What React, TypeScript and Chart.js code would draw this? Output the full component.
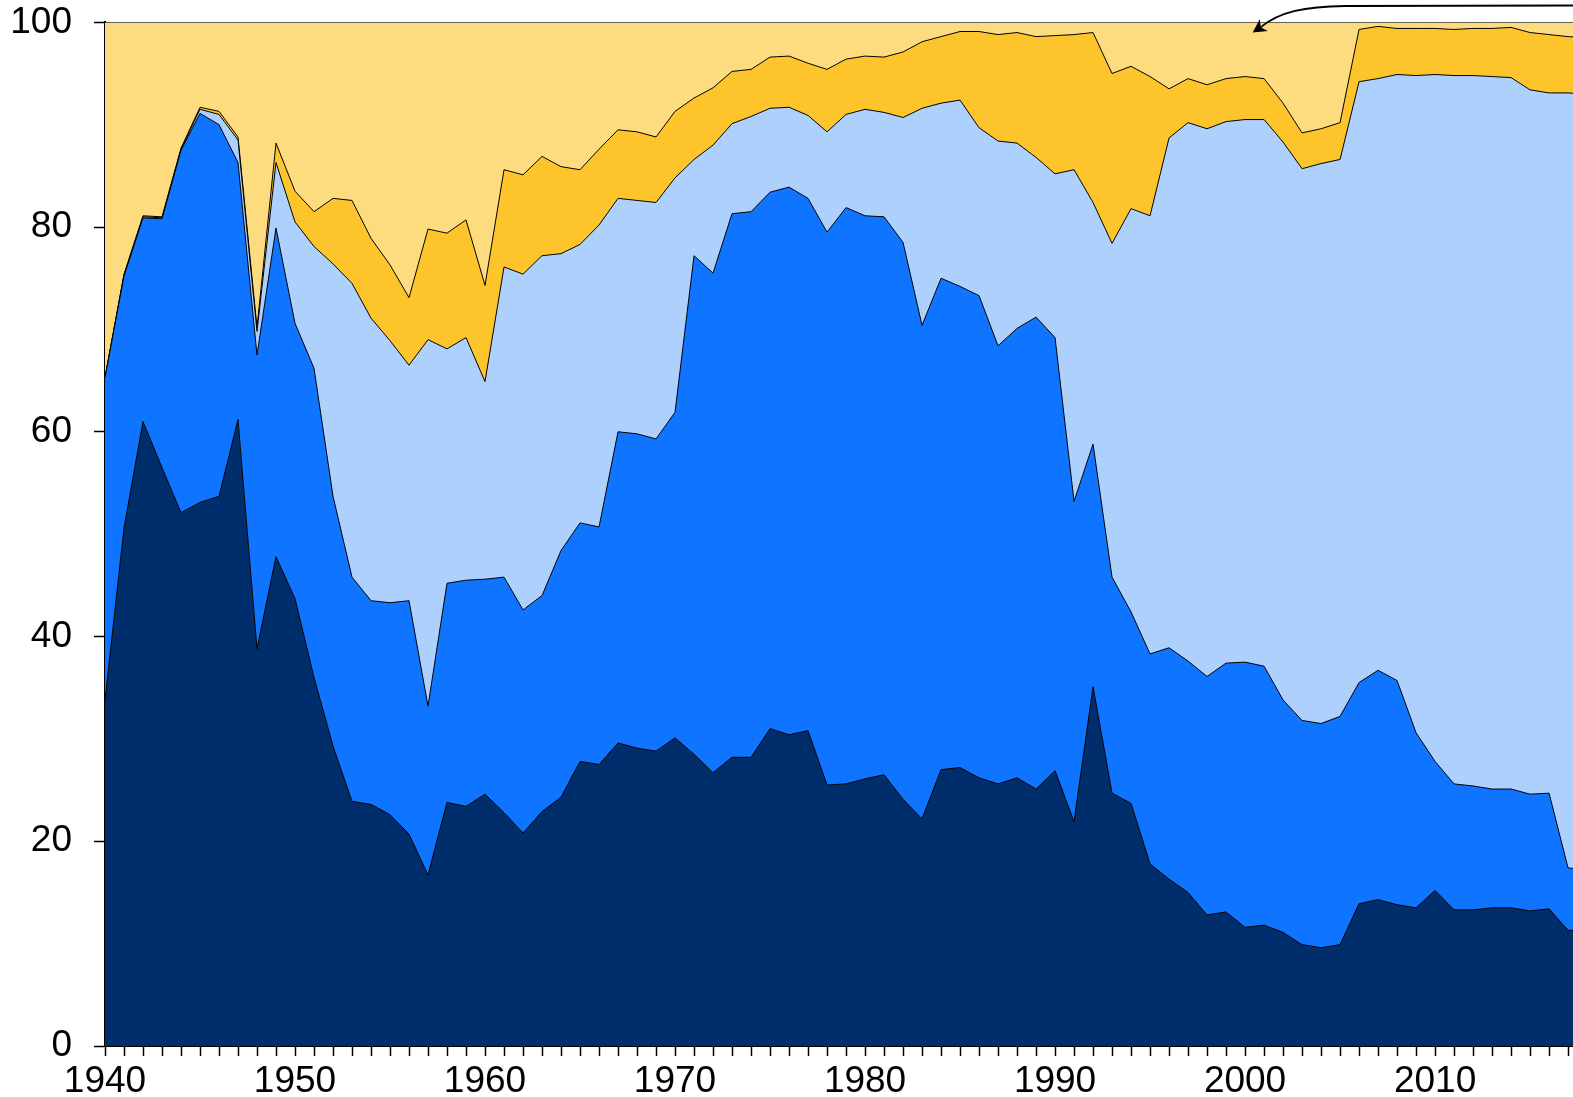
import React, { useEffect, useRef } from 'react';
import { Chart, registerables } from 'chart.js';

Chart.register(...registerables);

const years = [
  1940, 1941, 1942, 1943, 1944, 1945, 1946, 1947, 1948, 1949,
  1950, 1951, 1952, 1953, 1954, 1955, 1956, 1957, 1958, 1959,
  1960, 1961, 1962, 1963, 1964, 1965, 1966, 1967, 1968, 1969,
  1970, 1971, 1972, 1973, 1974, 1975, 1976, 1977, 1978, 1979,
  1980, 1981, 1982, 1983, 1984, 1985, 1986, 1987, 1988, 1989,
  1990, 1991, 1992, 1993, 1994, 1995, 1996, 1997, 1998, 1999,
  2000, 2001, 2002, 2003, 2004, 2005, 2006, 2007, 2008, 2009,
  2010, 2011, 2012, 2013, 2014, 2015, 2016, 2017, 2018,
];

// Share of each layer (percent), bottom to top
const navyShare = [
  33.8, 50.6, 61.0, 56.5, 52.1, 53.1, 53.7, 61.2, 38.8, 47.8,
  43.7, 36.0, 29.3, 23.9, 23.6, 22.6, 20.7, 16.7, 23.8, 23.4,
  24.6, 22.8, 20.8, 22.9, 24.3, 27.8, 27.5, 29.6, 29.1, 28.8,
  30.1, 28.5, 26.7, 28.2, 28.2, 31.0, 30.4, 30.8, 25.5, 25.6,
  26.1, 26.5, 24.1, 22.2, 27.0, 27.2, 26.2, 25.6, 26.2, 25.1,
  26.9, 21.9, 35.1, 24.7, 23.7, 17.8, 16.3, 15.0, 12.8, 13.1,
  11.6, 11.8, 11.1, 9.9, 9.6, 9.9, 13.9, 14.3, 13.8, 13.5,
  15.2, 13.3, 13.3, 13.5, 13.5, 13.2, 13.4, 11.3, 11.3,
];

const blueShare = [
  31.5, 24.6, 19.9, 24.3, 35.4, 38.0, 36.3, 25.1, 28.7, 32.1,
  26.9, 30.2, 24.4, 21.9, 19.9, 20.7, 22.8, 16.5, 21.4, 22.1,
  21.0, 23.0, 21.8, 21.1, 24.1, 23.3, 23.2, 30.4, 30.7, 30.5,
  31.8, 48.7, 48.8, 53.1, 53.3, 52.4, 53.5, 52.0, 54.0, 56.3,
  55.0, 54.5, 54.4, 48.2, 48.0, 47.0, 47.1, 42.8, 43.9, 46.1,
  42.3, 31.3, 23.7, 21.1, 18.7, 20.5, 22.6, 22.6, 23.3, 24.3,
  25.9, 25.3, 22.7, 21.9, 21.9, 22.3, 21.6, 22.4, 21.9, 17.1,
  12.6, 12.3, 12.1, 11.6, 11.6, 11.4, 11.3, 6.1, 5.9,
];

const lightBlueShare = [
  0.0, 0.1, 0.1, 0.1, 0.1, 0.4, 1.0, 2.2, 2.3, 6.4,
  9.9, 11.9, 22.7, 28.7, 27.6, 25.6, 23.0, 35.8, 22.9, 23.7,
  19.3, 30.3, 32.8, 33.2, 29.0, 27.2, 29.5, 22.8, 22.8, 23.1,
  22.9, 9.4, 12.5, 8.8, 9.3, 8.2, 7.8, 8.1, 9.8, 9.1,
  10.4, 10.2, 12.2, 21.2, 17.1, 18.2, 16.4, 20.0, 18.1, 15.6,
  16.0, 32.4, 23.6, 32.6, 39.4, 42.8, 49.8, 52.6, 53.5, 52.9,
  53.0, 53.4, 54.5, 53.9, 54.7, 54.4, 58.7, 57.8, 59.2, 64.2,
  67.1, 69.2, 69.4, 69.6, 69.5, 68.8, 68.4, 75.7, 75.8,
];

const goldShare = [
  0.0, 0.1, 0.1, 0.1, 0.1, 0.2, 0.3, 0.3, 0.4, 1.9,
  3.0, 3.4, 6.4, 8.1, 7.8, 7.4, 6.6, 10.8, 11.3, 11.5,
  9.4, 9.5, 9.7, 9.7, 8.5, 7.3, 7.4, 6.7, 6.7, 6.4,
  6.5, 6.0, 5.6, 5.1, 4.6, 5.0, 5.0, 5.1, 6.1, 5.4,
  5.2, 5.4, 6.4, 6.5, 6.5, 6.7, 9.4, 10.4, 10.8, 11.8,
  13.5, 13.2, 16.6, 16.6, 13.9, 13.6, 4.8, 4.3, 4.3, 4.2,
  4.2, 4.0, 3.8, 3.5, 3.4, 3.6, 5.1, 5.1, 4.5, 4.6,
  4.5, 4.5, 4.6, 4.7, 4.9, 5.6, 5.7, 5.5, 5.5,
];

const paleShare = [
  34.7, 24.6, 18.9, 19.0, 12.3, 8.3, 8.7, 11.2, 29.8, 11.8,
  16.5, 18.5, 17.2, 17.4, 21.1, 23.7, 26.9, 20.2, 20.6, 19.3,
  25.7, 14.4, 14.9, 13.1, 14.1, 14.4, 12.4, 10.5, 10.7, 11.2,
  8.7, 7.4, 6.4, 4.8, 4.6, 3.4, 3.3, 4.0, 4.6, 3.6,
  3.3, 3.4, 2.9, 1.9, 1.4, 0.9, 0.9, 1.2, 1.0, 1.4,
  1.3, 1.2, 1.0, 5.0, 4.3, 5.3, 6.5, 5.5, 6.1, 5.5,
  5.3, 5.5, 7.9, 10.8, 10.4, 9.8, 0.7, 0.4, 0.6, 0.6,
  0.6, 0.7, 0.6, 0.6, 0.5, 1.0, 1.2, 1.4, 1.5,
];

const decadeLabels = [1940, 1950, 1960, 1970, 1980, 1990, 2000, 2010];
const yTickValues = [0, 20, 40, 60, 80, 100];

const seriesList = [
  { name: 'Series 1', values: navyShare, color: '#002D6B' },
  { name: 'Series 2', values: blueShare, color: '#0F74FF' },
  { name: 'Series 3', values: lightBlueShare, color: '#AED0FC' },
  { name: 'Series 4', values: goldShare, color: '#FDC52B' },
  { name: 'Series 5', values: paleShare, color: '#FDDC80' },
];

const FONT = '"Liberation Sans", Arial, Helvetica, sans-serif';

const arrowPlugin = {
  id: 'arrowNote',
  afterDraw(chart: any) {
    const { ctx, chartArea, scales } = chart;
    const tipX = scales.x.getPixelForValue(2000.4);
    const tipY = scales.y.getPixelForValue(99);
    const startX = chartArea.right + 2;
    const dx = -10.9;
    const dy = 7.3;
    const dl = Math.hypot(dx, dy);
    const ux = dx / dl;
    const uy = dy / dl;
    const len = 13.5;
    const half = 7.2;
    const bx = tipX - ux * len;
    const by = tipY - uy * len;
    const nx = -uy;
    const ny = ux;
    const mx = tipX - ux * len * 0.72;
    const my = tipY - uy * len * 0.72;

    ctx.save();
    ctx.strokeStyle = '#000';
    ctx.fillStyle = '#000';
    ctx.lineWidth = 1.8;
    ctx.beginPath();
    ctx.moveTo(startX, 5.5);
    ctx.lineTo(1345, 6);
    ctx.bezierCurveTo(1305, 6.5, 1280, 11.5, mx, my);
    ctx.stroke();
    ctx.beginPath();
    ctx.moveTo(tipX, tipY);
    ctx.lineTo(bx + nx * half, by + ny * half);
    ctx.lineTo(mx, my);
    ctx.lineTo(bx - nx * half, by - ny * half);
    ctx.closePath();
    ctx.fill();
    ctx.restore();
  },
};

export default function App() {
  const canvasRef = useRef<HTMLCanvasElement | null>(null);

  useEffect(() => {
    const canvas = canvasRef.current;
    if (!canvas) return;
    const datasets = seriesList.map((s, i) => ({
      label: s.name,
      data: years.map((yr, k) => ({ x: yr, y: s.values[k] })),
      backgroundColor: s.color,
      borderColor: '#000',
      borderWidth: 1,
      pointRadius: 0,
      tension: 0,
      fill: i === 0 ? 'origin' : '-1',
    }));

    const chart = new Chart(canvas, {
      type: 'line',
      data: { datasets },
      plugins: [arrowPlugin],
      options: {
        animation: false,
        responsive: false,
        devicePixelRatio: 1,
        layout: { padding: { top: 22.3, left: 0, right: 0, bottom: 0 } },
        plugins: {
          legend: { display: false },
          tooltip: { enabled: false },
        },
        elements: { line: { borderJoinStyle: 'miter' } },
        scales: {
          x: {
            type: 'linear',
            min: 1940,
            max: 2017.26,
            afterBuildTicks: (scale: any) => {
              scale.ticks = years
                .filter((v) => v <= 2017)
                .map((v) => ({ value: v }));
            },
            afterFit: (scale: any) => {
              scale.height = 51;
            },
            ticks: {
              autoSkip: false,
              maxRotation: 0,
              padding: 4,
              color: '#000',
              font: { family: FONT, size: 37, lineHeight: 1.2 },
              callback: (v: any) => (decadeLabels.includes(Number(v)) ? String(v) : ''),
            },
            grid: {
              drawOnChartArea: false,
              drawTicks: true,
              tickLength: 10,
              color: '#000',
              tickWidth: 1.5,
            },
            border: { display: true, color: '#000', width: 2 },
          },
          y: {
            stacked: true,
            min: 0,
            max: 100,
            afterBuildTicks: (scale: any) => {
              scale.ticks = yTickValues.map((v) => ({ value: v }));
            },
            afterFit: (scale: any) => {
              scale.width = 105;
              scale.paddingTop = 0;
              scale.paddingBottom = 0;
            },
            ticks: {
              padding: 22,
              color: '#000',
              font: { family: FONT, size: 37, lineHeight: 1.2 },
            },
            grid: {
              drawOnChartArea: false,
              drawTicks: true,
              tickLength: 11,
              color: '#000',
              tickWidth: 1.5,
            },
            border: { display: true, color: '#000', width: 2 },
          },
        },
      },
    } as any);

    return () => chart.destroy();
  }, []);

  return (
    <div style={{ position: 'absolute', left: 0, top: 0, width: 1573, height: 1097, background: '#fff' }}>
      <canvas ref={canvasRef} width={1573} height={1097} style={{ display: 'block', width: 1573, height: 1097 }} />
    </div>
  );
}
